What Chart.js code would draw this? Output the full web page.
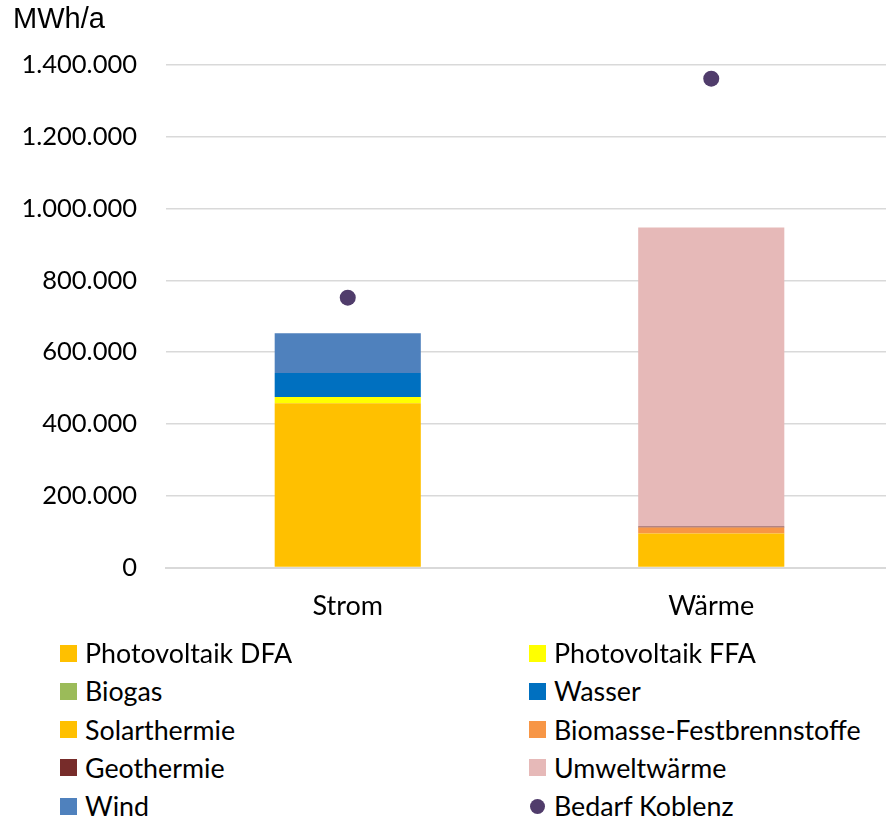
<!DOCTYPE html>
<html>
<head>
<meta charset="utf-8">
<script src="https://cdn.jsdelivr.net/npm/chart.js@4/dist/chart.umd.min.js"></script>
<style>
  html, body { margin: 0; padding: 0; background: #fff; overflow: hidden; width: 886px; height: 820px; }
  #wrap { position: absolute; left: 0; top: 0; width: 901px; height: 654px; }
  #unit { position: absolute; left: 13px; top: 4px; line-height: 29px; font-family: "Liberation Sans", Arial, sans-serif; font-size: 29px; color: #000; }
  #legend { position: absolute; left: 0; top: 634px; width: 886px; font-family: Lato, "Noto Sans", sans-serif; font-size: 26.8px; color: #000; }
  .item { position: absolute; height: 38px; display: flex; align-items: center; white-space: nowrap; }
  .sw { width: 17px; height: 17px; margin-right: 8px; flex: none; }
  .dot { width: 15px; height: 15px; border-radius: 50%; margin-right: 9px; margin-left: 1px; flex: none; }
</style>
</head>
<body>
<div id="wrap"><canvas id="c" width="901" height="654"></canvas></div>
<div id="unit">MWh/a</div>
<div id="legend"></div>
<script>
// ---- data ----
const categories = ['Strom', 'Wärme'];
const photovoltaikDFA = [458000, 0];
const photovoltaikFFA = [17000, 0];
const biogas = [0, 0];
const wasser = [67000, 0];
const solarthermie = [0, 95000];
const biomasseFest = [0, 16500];
const geothermie = [0, 3000];
const umweltwaerme = [0, 833000];
const wind = [111000, 0];
const bedarfKoblenz = [752000, 1362000];
const yTicks = [0, 200000, 400000, 600000, 800000, 1000000, 1200000, 1400000];

const barSeries = [
  { label: 'Photovoltaik DFA', data: photovoltaikDFA, color: '#FFC000' },
  { label: 'Photovoltaik FFA', data: photovoltaikFFA, color: '#FFFF00' },
  { label: 'Biogas', data: biogas, color: '#9BBB59' },
  { label: 'Wasser', data: wasser, color: '#0070C0' },
  { label: 'Solarthermie', data: solarthermie, color: '#FFC000' },
  { label: 'Biomasse-Festbrennstoffe', data: biomasseFest, color: '#F79646' },
  { label: 'Geothermie', data: geothermie, color: '#772C2A' },
  { label: 'Umweltwärme', data: umweltwaerme, color: '#E6B9B8' },
  { label: 'Wind', data: wind, color: '#4F81BD' }
];
const demandColor = '#503C6B';

function fmt(v) {
  return String(Math.round(v)).replace(/\B(?=(\d{3})+(?!\d))/g, '.');
}

const datasets = barSeries.map(s => ({
  type: 'bar',
  label: s.label,
  data: s.data,
  backgroundColor: s.color,
  borderWidth: 0,
  stack: 'supply',
  categoryPercentage: 1.0,
  barPercentage: 0.402,
  order: 2
}));
datasets.push({
  type: 'line',
  label: 'Bedarf Koblenz',
  data: bedarfKoblenz,
  showLine: false,
  pointRadius: 8,
  pointHoverRadius: 8,
  pointBackgroundColor: demandColor,
  pointBorderColor: demandColor,
  pointBorderWidth: 0,
  stack: 'demand',
  order: 1
});

const FONT = 'Lato, "Noto Sans", sans-serif';

new Chart(document.getElementById('c'), {
  data: { labels: categories, datasets: datasets },
  options: {
    responsive: false,
    animation: false,
    layout: { padding: { top: 65, left: 0, right: 0, bottom: 10 } },
    plugins: { legend: { display: false }, tooltip: { enabled: false }, title: { display: false } },
    scales: {
      x: {
        stacked: true,
        afterFit: (axis) => { axis.paddingLeft = 0; axis.paddingRight = 0; },
        grid: { display: false, drawTicks: false },
        border: { display: true, color: '#d9d9d9', width: 2 },
        ticks: { color: '#000', font: { family: FONT, size: 27 }, padding: 22 }
      },
      y: {
        stacked: true,
        min: 0,
        max: 1400000,
        afterBuildTicks: (axis) => { axis.ticks = yTicks.map(v => ({ value: v })); },
        afterFit: (axis) => { axis.width = 166; },
        grid: { color: '#d9d9d9', lineWidth: 1.5, drawTicks: false },
        border: { display: false },
        ticks: { color: '#000', font: { family: FONT, size: 25.5 }, padding: 29, callback: (v) => fmt(v) }
      }
    }
  }
});

// HTML legend built from the same series
const legendOrder = [
  ['Photovoltaik DFA', 'Photovoltaik FFA'],
  ['Biogas', 'Wasser'],
  ['Solarthermie', 'Biomasse-Festbrennstoffe'],
  ['Geothermie', 'Umweltwärme'],
  ['Wind', 'Bedarf Koblenz']
];
const legend = document.getElementById('legend');
const colX = [60, 529];
legendOrder.forEach((row, r) => {
  row.forEach((name, c) => {
    const el = document.createElement('div');
    el.className = 'item';
    el.style.left = colX[c] + 'px';
    el.style.top = (r * 38.3) + 'px';
    const s = barSeries.find(b => b.label === name);
    const m = document.createElement('span');
    if (s) { m.className = 'sw'; m.style.background = s.color; }
    else { m.className = 'dot'; m.style.background = demandColor; }
    el.appendChild(m);
    const t = document.createElement('span');
    t.textContent = name;
    el.appendChild(t);
    legend.appendChild(el);
  });
});
</script>
</body>
</html>
